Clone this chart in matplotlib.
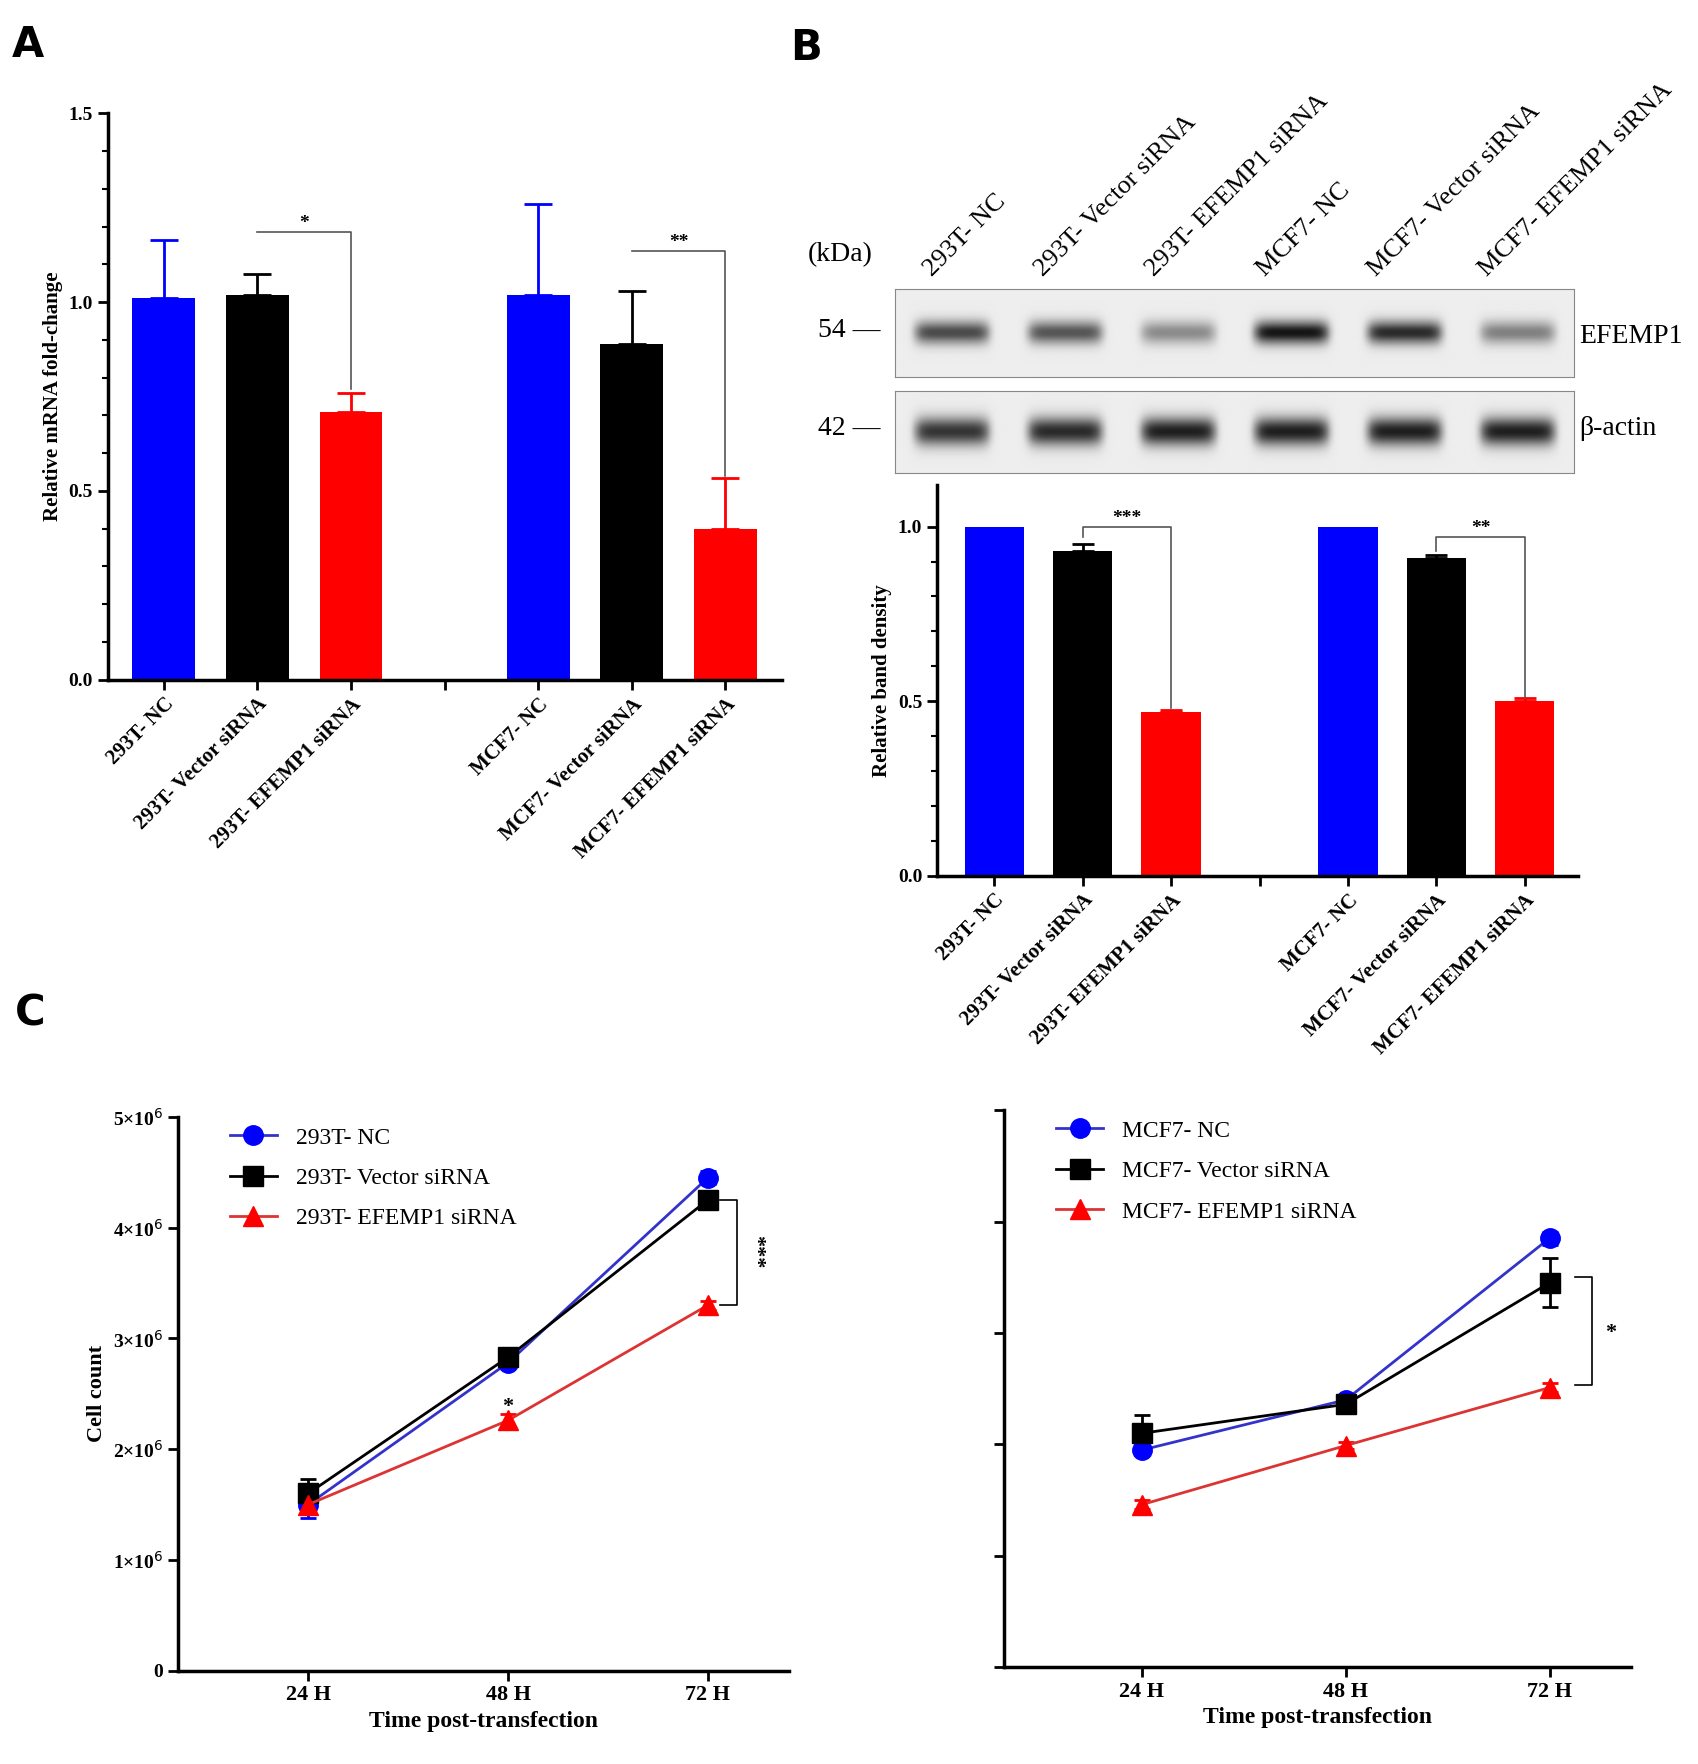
import numpy as np
import matplotlib
matplotlib.use("Agg")
import matplotlib.pyplot as plt

plt.rcParams['font.family'] = ['Liberation Serif', 'DejaVu Serif']

# ---- data ----
a_labels = ["293T- NC", "293T- Vector siRNA", "293T- EFEMP1 siRNA",
            "MCF7- NC", "MCF7- Vector siRNA", "MCF7- EFEMP1 siRNA"]
a_vals = [1.01, 1.02, 0.71, 1.02, 0.89, 0.40]
a_err = [0.155, 0.055, 0.05, 0.24, 0.14, 0.135]
b_vals = [1.0, 0.93, 0.47, 1.0, 0.91, 0.50]
b_err = [0.0, 0.02, 0.005, 0.0, 0.01, 0.008]
efemp1_band = [0.75, 0.7, 0.45, 1.0, 0.9, 0.5]
actin_band = [0.85, 0.9, 0.95, 0.95, 0.95, 0.95]
colors = ["#0000ff", "#000000", "#ff0000"] * 2
hours = [24, 48, 72]
hour_labels = ["24 H", "48 H", "72 H"]
l_nc = [1.50, 2.78, 4.45]; l_nc_e = [0.12, 0.05, 0.06]
l_vec = [1.60, 2.83, 4.25]; l_vec_e = [0.13, 0.05, 0.05]
l_efe = [1.50, 2.26, 3.30]; l_efe_e = [0.05, 0.06, 0.04]
r_nc = [1.95, 2.40, 3.85]; r_nc_e = [0.03, 0.04, 0.06]
r_vec = [2.10, 2.36, 3.45]; r_vec_e = [0.16, 0.05, 0.22]
r_efe = [1.46, 1.99, 2.51]; r_efe_e = [0.04, 0.03, 0.04]
line_names_l = ["293T- NC", "293T- Vector siRNA", "293T- EFEMP1 siRNA"]
line_names_r = ["MCF7- NC", "MCF7- Vector siRNA", "MCF7- EFEMP1 siRNA"]

W, H = 1699 / 1.1327, 1764 / 1.1327
fig = plt.figure(figsize=(16.99, 17.64), dpi=100)

def ax_at(x0, y0, x1, y1):
    return fig.add_axes([x0 / W, 1 - y1 / H, (x1 - x0) / W, (y1 - y0) / H])

pos = [0, 1, 2, 4, 5, 6]

def style_bar_ax(ax):
    for s in ['top', 'right']:
        ax.spines[s].set_visible(False)
    ax.spines['left'].set_linewidth(2.5)
    ax.spines['bottom'].set_linewidth(2.5)
    ax.tick_params(width=2, length=7)

def bracket(ax, x1, x2, y1, y2, top, text, fs):
    ax.plot([x1, x1, x2, x2], [y1, top, top, y2], color='#555555', lw=1.2)
    ax.text((x1 + x2) / 2, top, text, ha='center', va='bottom', fontsize=fs, fontweight='bold')

# ---- Panel A ----
ax = ax_at(95, 100, 690, 600)
ax.bar(pos, a_vals, width=0.67, color=colors)
for p, v, e, c in zip(pos, a_vals, a_err, colors):
    ax.errorbar(p, v, yerr=[[0], [e]], color=c, capsize=10, lw=2, capthick=2)
ax.set_ylim(0, 1.5)
ax.set_xlim(-0.6, 6.6)
ax.set_yticks([0, 0.5, 1.0, 1.5])
ax.set_yticklabels(["0.0", "0.5", "1.0", "1.5"], fontweight='bold', fontsize=14)
ax.set_yticks(np.arange(0, 1.5, 0.1), minor=True)
ax.tick_params(axis='y', which='minor', length=4, width=1.5)
ax.set_xticks(pos + [3])
ax.set_xticklabels(a_labels + [""], rotation=45, ha='right', rotation_mode='anchor',
                   fontsize=15, fontweight='bold')
ax.set_ylabel("Relative mRNA fold-change", fontsize=15, fontweight='bold')
style_bar_ax(ax)
bracket(ax, 1, 2, 1.185, 0.77, 1.185, "*", 14)
bracket(ax, 5, 6, 1.135, 0.54, 1.135, "**", 14)

# ---- Panel B blots ----
def blot(y0, y1, bands, sigma_y):
    axb = ax_at(790, y0, 1390, y1)
    nx, ny = 600, 80
    xx = np.linspace(0, 6, nx)
    yy = np.linspace(0, 1, ny)
    img = np.full((ny, nx), 0.93)
    for i, b in enumerate(bands):
        prof_x = np.exp(-((xx - (i + 0.5)) / 0.33) ** 8)
        prof_y = np.exp(-((yy - 0.5) / sigma_y) ** 2)
        img -= 0.85 * b * np.outer(prof_y, prof_x)
    axb.imshow(np.clip(img, 0, 1), cmap='gray', vmin=0, vmax=1, aspect='auto',
               extent=[0, 6, 0, 1])
    axb.set_xticks([]); axb.set_yticks([])
    for s in axb.spines.values():
        s.set_color('#888888')
    return axb

blot(255, 333, efemp1_band, 0.13)
blot(345, 418, actin_band, 0.17)
fig.text(750 / W, 1 - 292 / H, "54 —", fontsize=20, ha='center', va='center')
fig.text(750 / W, 1 - 378 / H, "42 —", fontsize=20, ha='center', va='center')
fig.text(742 / W, 1 - 225 / H, "(kDa)", fontsize=20, ha='center', va='center')
fig.text(1394 / W, 1 - 297 / H, "EFEMP1", fontsize=20, ha='left', va='center')
fig.text(1394 / W, 1 - 378 / H, "β-actin", fontsize=20, ha='left', va='center')
for i, lab in enumerate(a_labels):
    fig.text((826 + i * 98) / W, 1 - 248 / H, lab, fontsize=19, rotation=45,
             ha='left', va='bottom', rotation_mode='anchor')

# ---- Panel B bars ----
ax = ax_at(827, 428, 1393, 773)
ax.bar(pos, b_vals, width=0.67, color=colors)
for p, v, e, c in zip(pos, b_vals, b_err, colors):
    if e > 0:
        ax.errorbar(p, v, yerr=[[0], [e]], color=c, capsize=8, lw=2, capthick=2)
ax.set_ylim(0, 1.12)
ax.set_xlim(-0.65, 6.6)
ax.set_yticks([0, 0.5, 1.0])
ax.set_yticklabels(["0.0", "0.5", "1.0"], fontweight='bold', fontsize=14)
ax.set_yticks(np.arange(0, 1.1, 0.1), minor=True)
ax.tick_params(axis='y', which='minor', length=4, width=1.5)
ax.set_xticks(pos + [3])
ax.set_xticklabels(a_labels + [""], rotation=45, ha='right', rotation_mode='anchor',
                   fontsize=15, fontweight='bold')
ax.set_ylabel("Relative band density", fontsize=15, fontweight='bold')
style_bar_ax(ax)
bracket(ax, 1, 2, 0.97, 0.48, 1.0, "***", 14)
bracket(ax, 5, 6, 0.93, 0.51, 0.97, "**", 14)

# ---- Panel C ----
def line_panel(ax, series, names, xlim, show_y):
    cols = ["#0000ff", "#000000", "#ff0000"]
    lcols = ["#3333cc", "#000000", "#dd3333"]
    mk = ["o", "s", "^"]
    for (v, e), n, c, lc, m in zip(series, names, cols, lcols, mk):
        ax.errorbar(hours, np.array(v) * 1e6, yerr=np.array(e) * 1e6, color=lc, lw=2,
                    marker=m, markersize=14, mfc=c, mec=c, ecolor=c, capsize=6,
                    capthick=2)
        ax.plot([], [], color=lc, lw=2, marker=m, markersize=14, mfc=c, mec=c, label=n)
    ax.set_ylim(0, 5e6)
    ax.set_xlim(*xlim)
    ax.set_xticks(hours)
    ax.set_xticklabels(hour_labels, fontsize=16, fontweight='bold')
    ax.set_yticks(np.arange(0, 6e6, 1e6))
    if show_y:
        ax.set_yticklabels(["0", "1×10$^6$", "2×10$^6$", "3×10$^6$", "4×10$^6$", "5×10$^6$"],
                           fontsize=14, fontweight='bold')
        ax.set_ylabel("Cell count", fontsize=16, fontweight='bold')
    else:
        ax.set_yticklabels([])
    ax.set_xlabel("Time post-transfection", fontsize=17, fontweight='bold')
    for s in ['top', 'right']:
        ax.spines[s].set_visible(False)
    ax.spines['left'].set_linewidth(2.5)
    ax.spines['bottom'].set_linewidth(2.5)
    ax.tick_params(width=2, length=7)
    ax.legend(loc='upper left', frameon=False, fontsize=17, bbox_to_anchor=(0.05, 1.02),
              labelspacing=0.8, handlelength=2)

axl = ax_at(157, 986, 697, 1475)
line_panel(axl, [(l_nc, l_nc_e), (l_vec, l_vec_e), (l_efe, l_efe_e)], line_names_l,
           (8.35, 81.8), True)
axl.plot([73.5, 75.5, 75.5, 73.5], [4.25e6, 4.25e6, 3.3e6, 3.3e6], color='k', lw=1.2)
axl.text(76.5, 3.78e6, "***", rotation=270, fontsize=16, fontweight='bold', va='center')
axl.text(48, 2.34e6, "*", fontsize=16, fontweight='bold', ha='center')

axr = ax_at(886, 980, 1440, 1472)
line_panel(axr, [(r_nc, r_nc_e), (r_vec, r_vec_e), (r_efe, r_efe_e)], line_names_r,
           (7.7, 81.6), False)
axr.plot([75, 77, 77, 75], [3.5e6, 3.5e6, 2.53e6, 2.53e6], color='k', lw=1.2)
axr.text(78.5, 3.0e6, "*", fontsize=16, fontweight='bold', va='center')

for lab, x, y in [("A", 25, 40), ("B", 712, 42), ("C", 27, 895)]:
    fig.text(x / W, 1 - y / H, lab, fontsize=30, fontweight='bold',
             family='DejaVu Sans', ha='center', va='center')

fig.savefig("out.png", dpi=100)
